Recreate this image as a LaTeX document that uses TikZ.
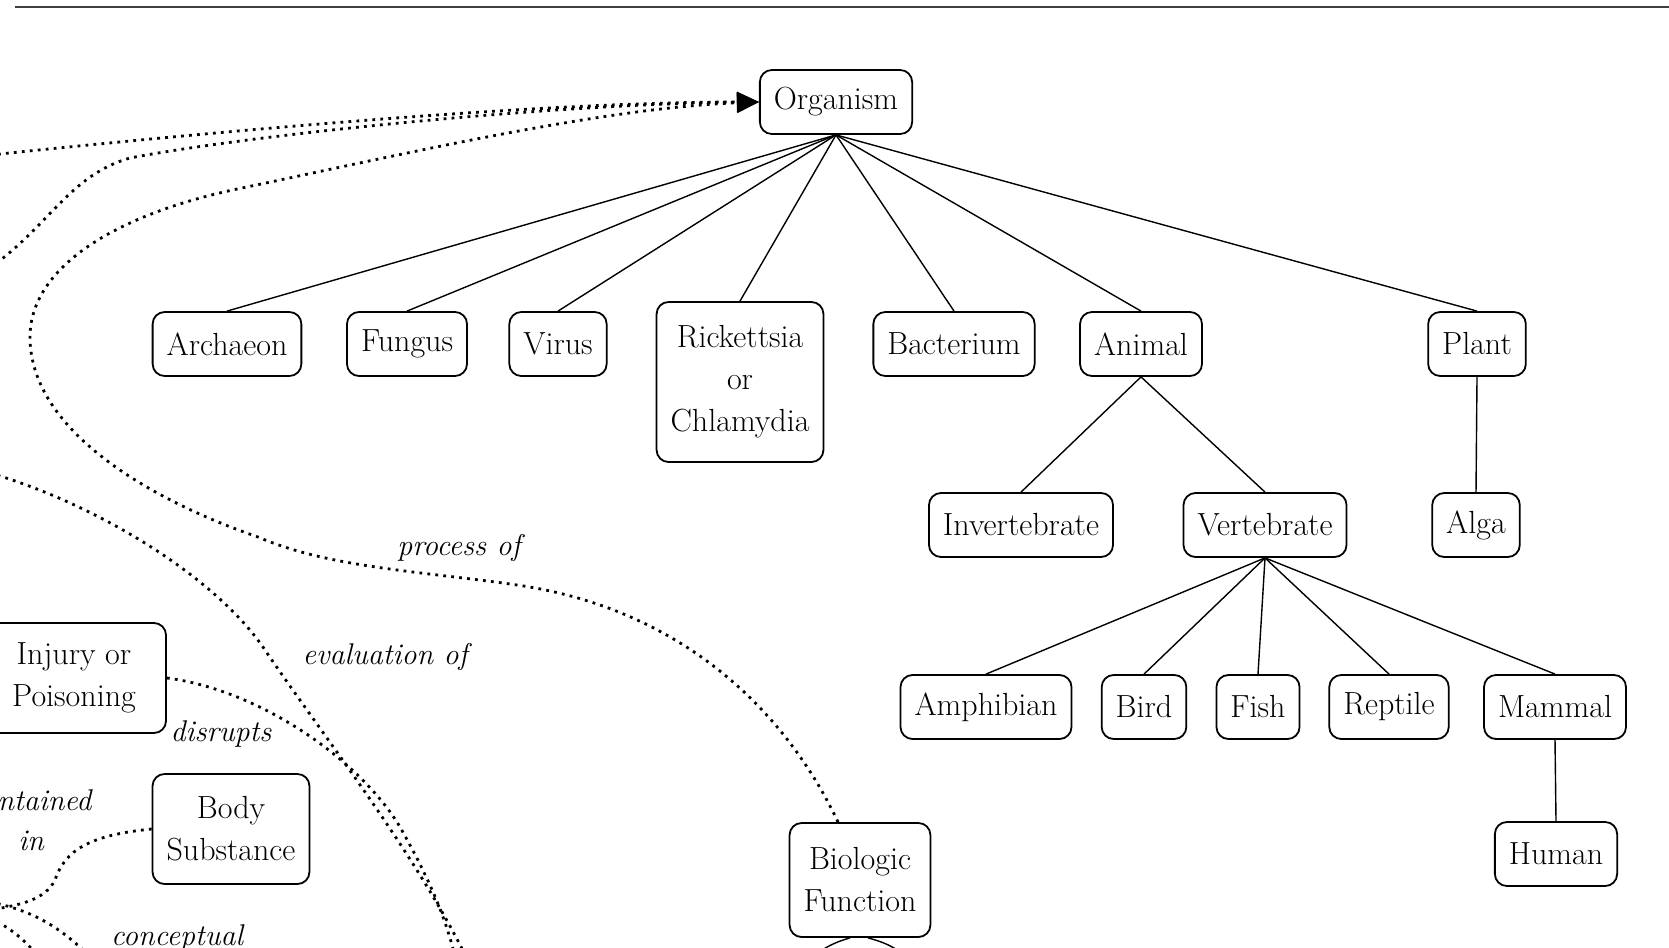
\documentclass[tikz,border=0pt]{standalone}
\usepackage{fontspec}
\usetikzlibrary{arrows.meta}
\begin{document}
\begin{tikzpicture}
[x=0.5pt,y=-0.5pt,
every node/.style={draw,rounded corners=6pt,align=center,line width=0.9pt,
  inner xsep=7pt,inner ysep=8pt,minimum height=32pt,font=\fontsize{16}{21}\selectfont},
lbl/.style={draw=none,inner sep=0pt,minimum height=0pt,font=\itshape\fontsize{15}{20}\selectfont},
isa/.style={line width=0.7pt},
rel/.style={line width=1.4pt,dash pattern=on 1.4pt off 2.6pt},
tip/.style={-{Triangle[length=11pt,width=10pt]}},
]
\useasboundingbox (0,0) rectangle (1669,947);

\coordinate (tl) at (15,7);
\coordinate (tr) at (1680,7);
\draw[line width=1.3pt,black!75] (tl) -- (tr);

\node (org) at (836,102) {Organism};
\node (arch) at (227,344) {Archaeon};
\node (fung) at (407,344) {Fungus};
\node (vir) at (558,344) {Virus};
\node[minimum height=80pt] (rick) at (740,382) {Rickettsia\\or\\Chlamydia};
\node (bact) at (954,344) {Bacterium};
\node (anim) at (1141,344) {Animal};
\node (plant) at (1477,344) {Plant};
\node (inv) at (1021,525) {Invertebrate};
\node (vert) at (1265,525) {Vertebrate};
\node (alga) at (1476,525) {Alga};
\node (amph) at (986,707) {Amphibian};
\node (bird) at (1144,707) {Bird};
\node (fish) at (1258,707) {Fish};
\node (rept) at (1389,707) {Reptile};
\node (mamm) at (1555,707) {Mammal};
\node (hum) at (1556,854) {Human};
\node[minimum height=57pt] (bio) at (860,880) {Biologic\\Function};
\node[minimum height=55pt] (body) at (231,829) {Body\\Substance};
\node[minimum height=55pt,minimum width=92pt] (inj) at (74,678) {Injury or\\Poisoning};

\foreach \c in {arch,fung,vir,rick,bact,anim,plant}
  \draw[isa] (org.south) -- (\c.north);
\foreach \c in {inv,vert}
  \draw[isa] (anim.south) -- (\c.north);
\foreach \c in {amph,bird,fish,rept,mamm}
  \draw[isa] (vert.south) -- (\c.north);
\draw[isa] (plant.south) -- (alga.north);
\draw[isa] (mamm.south) -- (hum.north);

\coordinate (a0) at (-10,155);
\coordinate (b0) at (-10,268);
\coordinate (d0) at (-10,473);
\coordinate (d1) at (470,965);
\coordinate (e1) at (457,965);
\coordinate (f0) at (-10,910);
\coordinate (g0) at (-10,902);
\coordinate (g1) at (95,962);
\coordinate (h0) at (-10,918);
\coordinate (h1) at (45,965);
\coordinate (bl) at (815,955);
\coordinate (br) at (905,955);

\draw[rel,tip] (a0) .. controls (250,128) and (550,102) .. (org.west);
\draw[rel,tip] (b0) .. controls (50,225) and (70,175) .. (130,158)
  .. controls (250,135) and (550,104) .. (org.west);
\draw[rel,tip] ([xshift=-11pt]bio.north) .. controls (790,720) and (690,610) .. (517,585)
  .. controls (420,571) and (330,568) .. (258,537)
  .. controls (150,500) and (30,430) .. (30,337)
  .. controls (30,270) and (110,215) .. (242,188)
  .. controls (400,155) and (600,108) .. (org.west);
\draw[rel] (d0) .. controls (100,505) and (220,580) .. (267,653)
  .. controls (330,745) and (420,860) .. (d1);
\draw[rel] (inj.east) .. controls (260,690) and (360,760) .. (400,827)
  .. controls (430,880) and (447,920) .. (e1);
\draw[rel] (body.west) .. controls (90,835) and (65,850) .. (55,880)
  .. controls (45,900) and (20,905) .. (f0);
\draw[rel] (g0) .. controls (30,910) and (60,925) .. (g1);
\draw[rel] (h0) .. controls (15,930) and (30,945) .. (h1);
\draw[isa] ([xshift=-5pt]bio.south) to[bend right=10] (bl);
\draw[isa] ([xshift=4pt]bio.south) to[bend left=10] (br);

\node[lbl] (proc) at (459,548) {process of};
\node[lbl] (eval) at (385,657) {evaluation of};
\node[lbl] (disr) at (221,734) {disrupts};
\node[lbl] (cont) at (31,820) {contained\\in};
\node[lbl,anchor=base] (conc) at (177,945) {conceptual};
\end{tikzpicture}
\end{document}
